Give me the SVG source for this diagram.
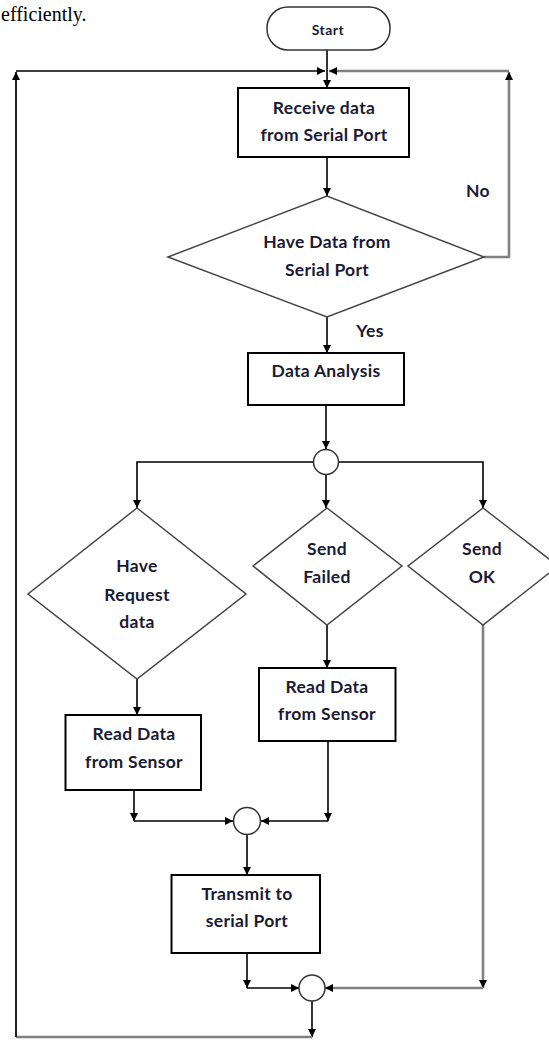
<svg xmlns="http://www.w3.org/2000/svg" width="549" height="1040" viewBox="0 0 549 1040">
  <defs>
    <marker id="ah" viewBox="0 0 10 10" refX="10" refY="5" markerWidth="8" markerHeight="8" orient="auto" markerUnits="userSpaceOnUse">
      <path d="M0,0 L10,5 L0,10 z" fill="#000"/>
    </marker>
    <style>
      .box { fill: #fff; stroke: #000; stroke-width: 2; }
      .dia { fill: #fff; stroke: #444; stroke-width: 1.5; }
      .jn { fill: #fff; stroke: #333; stroke-width: 1.5; }
      .ln { fill: none; stroke: #000; stroke-width: 1.6; }
      .lg { fill: none; stroke: #808080; stroke-width: 2.6; }
      .t { font-family: Lato, "Liberation Sans", sans-serif; font-weight: bold; font-size: 17.5px; letter-spacing: 0.3px; fill: #1a1a33; text-anchor: middle; }
      .ts { font-size: 14px; letter-spacing: 0.5px; }
      .cap { font-family: "Liberation Serif", serif; font-size: 20px; fill: #000; }
    </style>
  </defs>

  <text class="cap" x="1" y="21">efficiently.</text>

  <g id="connectors">
    <path class="ln" d="M327,50 V88" marker-end="url(#ah)"/>
    <path class="ln" d="M327,157 V196" marker-end="url(#ah)"/>
    <path class="lg" d="M484,257 H509 V72" marker-end="url(#ah)"/>
    <path class="lg" d="M509,71 H329" marker-end="url(#ah)"/>
    <path class="ln" d="M327,317 V353" marker-end="url(#ah)"/>
    <path class="ln" d="M326,405 V449" marker-end="url(#ah)"/>
    <path class="ln" d="M313.5,462 H137 V508" marker-end="url(#ah)"/>
    <path class="ln" d="M326,474.5 V508" marker-end="url(#ah)"/>
    <path class="ln" d="M338.5,462 H483 V508" marker-end="url(#ah)"/>
    <path class="ln" d="M137,679 V715" marker-end="url(#ah)"/>
    <path class="ln" d="M327,625 V668" marker-end="url(#ah)"/>
    <path class="ln" d="M134,790 V821" marker-end="url(#ah)"/>
    <path class="ln" d="M134,821 H233" marker-end="url(#ah)"/>
    <path class="ln" d="M328,741 V821" marker-end="url(#ah)"/>
    <path class="ln" d="M328,821 H261" marker-end="url(#ah)"/>
    <path class="ln" d="M247,835 V875" marker-end="url(#ah)"/>
    <path class="ln" d="M247,953 V988" marker-end="url(#ah)"/>
    <path class="ln" d="M247,988 H299" marker-end="url(#ah)"/>
    <path class="lg" d="M483,625 V988" marker-end="url(#ah)"/>
    <path class="lg" d="M483,988 H325" marker-end="url(#ah)"/>
    <path class="ln" d="M312,1001 V1037" marker-end="url(#ah)"/>
    <path class="lg" d="M312,1037 H16"/>
    <path class="ln" d="M16,1037 V72" marker-end="url(#ah)" style="stroke:#222;stroke-width:2"/>
    <path class="ln" d="M16,71 H325" marker-end="url(#ah)"/>
    <text class="t" x="478" y="197">No</text>
    <text class="t" x="370" y="337">Yes</text>
  </g>

  <g id="start">
    <rect x="267" y="7" width="123" height="43" rx="21" ry="21" fill="#fff" stroke="#333" stroke-width="1.5"/>
    <text class="t ts" x="328" y="35">Start</text>
  </g>

  <g id="receive">
    <rect class="box" x="238" y="88" width="171" height="69"/>
    <text class="t" x="324" y="114">Receive data</text>
    <text class="t" x="324" y="141">from Serial Port</text>
  </g>

  <g id="have-data">
    <polygon class="dia" points="168,257 327,196 484,257 327,317"/>
    <text class="t" x="327" y="248">Have Data from</text>
    <text class="t" x="327" y="276">Serial Port</text>
  </g>

  <g id="analysis">
    <rect class="box" x="248" y="353" width="156" height="52"/>
    <text class="t" x="326" y="377">Data Analysis</text>
  </g>

  <g id="junction1">
    <circle class="jn" cx="326" cy="462" r="12.5"/>
  </g>

  <g id="have-request">
    <polygon class="dia" points="137,508 246,594 137,679 28,594"/>
    <text class="t" x="137" y="572">Have</text>
    <text class="t" x="137" y="601">Request</text>
    <text class="t" x="137" y="628">data</text>
  </g>

  <g id="send-failed">
    <polygon class="dia" points="327,508 402,566 327,625 253,566"/>
    <text class="t" x="327" y="555">Send</text>
    <text class="t" x="327" y="583">Failed</text>
  </g>

  <g id="send-ok">
    <polygon class="dia" points="483,508 558,566 483,625 408,566"/>
    <text class="t" x="482" y="555">Send</text>
    <text class="t" x="482" y="583">OK</text>
  </g>

  <g id="read-left">
    <rect class="box" x="65.5" y="715" width="135.5" height="75"/>
    <text class="t" x="134" y="740">Read Data</text>
    <text class="t" x="134" y="768">from Sensor</text>
  </g>

  <g id="read-middle">
    <rect class="box" x="259" y="668" width="136.5" height="73"/>
    <text class="t" x="327" y="693">Read Data</text>
    <text class="t" x="327" y="720">from Sensor</text>
  </g>

  <g id="junction2">
    <circle class="jn" cx="247" cy="821" r="13.5"/>
  </g>

  <g id="transmit">
    <rect class="box" x="171.5" y="875" width="148.5" height="78"/>
    <text class="t" x="247" y="900">Transmit to</text>
    <text class="t" x="247" y="927">serial Port</text>
  </g>

  <g id="junction3">
    <circle class="jn" cx="312" cy="988" r="13"/>
  </g>
</svg>
